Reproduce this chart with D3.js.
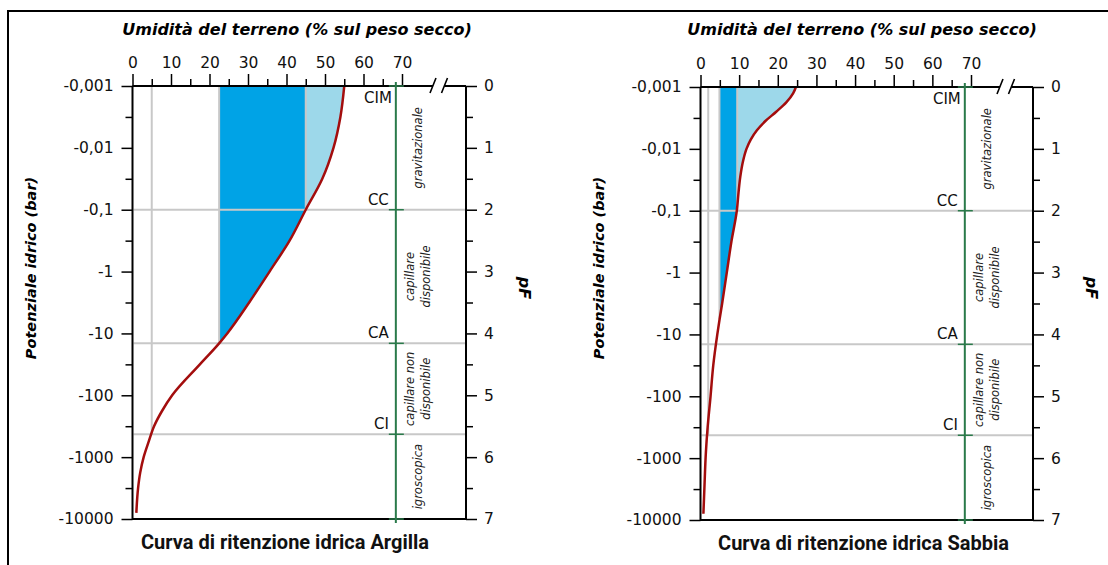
<!DOCTYPE html>
<html><head><meta charset="utf-8">
<script src="https://cdn.jsdelivr.net/npm/d3@7"></script>
<style>
body{margin:0;background:#fff;}
svg{display:block;font-family:"DejaVu Sans",sans-serif;}
</style></head><body>
<svg id="c" width="1108" height="565"></svg>
<script>
// ---------- data ----------
const pFTicks = [0,1,2,3,4,5,6,7];
const pFMinor = [0.5,1.5,2.5,3.5,4.5,5.5,6.5];
const barLabels = ["-0,001","-0,01","-0,1","-1","-10","-100","-1000","-10000"];
const moistTicks = [0,10,20,30,40,50,60,70];
const moistMinor = [5,15,25,35,45,55,65];
const levelNames = ["CIM","CC","CA","CI"];
const levelPF = [0,2,4.16,5.63];
const zoneNames = [["gravitazionale"],["capillare","disponibile"],["capillare non","disponibile"],["igroscopica"]];
const zoneBounds = [0,2,4.16,5.63,7];
const zoneAxisMoisture = 68.4;
const xTitle = "Umidità del terreno (% sul peso secco)";
const yTitle = "Potenziale idrico (bar)";
const y2Title = "pF";

// Argilla (clay)
const clayPF = [0,0.5,1,1.5,2,2.5,3,3.5,4,4.16,4.5,5,5.25,5.5,5.75,6,6.25,6.5,6.9];
const clayW  = [55,54,52.2,49.3,45,40.8,35.6,30.3,24.6,22.5,17.5,10.3,7.7,5.6,4.2,2.9,2.0,1.45,1.0];
const clayCC = 45, clayCA = 22.5, clayCI = 5.0;
const clayDropEnd = [2,4.16,5.63];
const clayTitle = "Curva di ritenzione idrica Argilla";

// Sabbia (sand)
const sandPF = [0,0.1,0.25,0.4,0.55,0.7,0.85,1.0,1.2,1.45,1.7,2,2.5,3,3.5,3.75,4,4.5,5,5.5,5.9,6.5,6.9];
const sandW  = [24.7,24.0,22.2,19.6,16.8,14.6,13.0,11.9,11.0,10.3,9.85,9.4,8.0,6.8,5.6,4.95,4.35,3.3,2.6,1.85,1.4,1.0,0.75];
const sandCC = 9.5, sandCA = 4.9, sandCI = 2.0;
const sandDropEnd = [2,3.75,5.63];
const sandTitle = "Curva di ritenzione idrica Sabbia";

// ---------- drawing ----------
const svg = d3.select("#c");
svg.append("path").attr("d","M8,565V11H1108").attr("fill","none").attr("stroke","#000").attr("stroke-width",2);

const C = {dark:"#00a3e6", light:"#9dd8ea", red:"#a30d0d", green:"#2a7a4a", grey:"#c8c8c8"};

function panel(id, L, pfs, ws, cc, ca, ci, dropEnd, title){
  const g = svg.append("g");
  const x = d3.scaleLinear().domain([0,70]).range([L.x0, L.x70]);
  const y = d3.scaleLinear().domain([0,7]).range([L.top, L.bottom]);
  const pts = pfs.map((p,i)=>({pF:p, w:ws[i]}));

  const area = d3.area().curve(d3.curveMonotoneY).y(d=>y(d.pF)).x0(x(0)-5).x1(d=>x(d.w));
  g.append("clipPath").attr("id","clip"+id).append("path").attr("d", area(pts));

  const fills = g.append("g").attr("clip-path","url(#clip"+id+")");
  fills.append("rect").attr("x",x(ca)).attr("y",y(0)).attr("width",x(cc)-x(ca)).attr("height",y(levelPF[2])-y(0)).attr("fill",C.dark);
  fills.append("rect").attr("x",x(cc)).attr("y",y(0)).attr("width",x(70)-x(cc)).attr("height",y(levelPF[1])-y(0)).attr("fill",C.light);

  const drops = [cc, ca, ci];
  drops.forEach((w,i)=>{
    g.append("line").attr("x1",x(w)).attr("x2",x(w)).attr("y1",y(0)).attr("y2",y(dropEnd[i]))
      .attr("stroke",C.grey).attr("stroke-width",2);
  });
  levelPF.slice(1).forEach(p=>{
    g.append("line").attr("x1",L.x0+1).attr("x2",L.right).attr("y1",y(p)).attr("y2",y(p))
      .attr("stroke",C.grey).attr("stroke-width",2);
  });

  g.append("path").attr("d", d3.line().curve(d3.curveMonotoneY).x(d=>x(d.w)).y(d=>y(d.pF))(pts))
    .attr("fill","none").attr("stroke",C.red).attr("stroke-width",2.5);

  const axStyle = s => { s.select(".domain").remove(); s.selectAll("line").attr("stroke","#000").attr("stroke-width",1.5);
    s.selectAll("text").attr("fill","#111").style("font-size","15.5px").style("font-family","DejaVu Sans"); };
  g.append("g").attr("transform",`translate(0,${L.top})`).call(d3.axisTop(x).tickValues(moistMinor).tickSize(7).tickFormat("")).call(axStyle);
  g.append("g").attr("transform",`translate(0,${L.top})`).call(d3.axisTop(x).tickValues(moistTicks).tickSize(12).tickPadding(6).tickFormat(d3.format("d"))).call(axStyle);
  g.append("g").attr("transform",`translate(${L.x0},0)`).call(d3.axisLeft(y).tickValues(pFMinor).tickSize(7).tickFormat("")).call(axStyle);
  g.append("g").attr("transform",`translate(${L.x0},0)`).call(d3.axisLeft(y).tickValues(pFTicks).tickSize(11).tickPadding(8).tickFormat((d,i)=>barLabels[i])).call(axStyle);
  g.append("g").attr("transform",`translate(${L.right},0)`).call(d3.axisRight(y).tickValues(pFMinor).tickSize(7).tickFormat("")).call(axStyle);
  g.append("g").attr("transform",`translate(${L.right},0)`).call(d3.axisRight(y).tickValues(pFTicks).tickSize(11).tickPadding(7).tickFormat(d3.format("d"))).call(axStyle);

  const b1 = L.right-33, b2 = L.right-21.5;
  const ax = g.append("g").attr("stroke","#000").attr("stroke-width",2).attr("fill","none");
  ax.append("path").attr("d",`M${L.x0},${L.top}H${b1}M${b2},${L.top}H${L.right}`);
  ax.append("path").attr("d",`M${b1-3},${L.top+7}L${b1+3},${L.top-8}M${b2-3},${L.top+7}L${b2+3},${L.top-8}`).attr("stroke-width",1.6);
  ax.append("path").attr("d",`M${L.x0},${L.top}V${L.bottom}H${L.right}V${L.top}`);

  const gx = x(zoneAxisMoisture);
  g.append("line").attr("x1",gx).attr("x2",gx).attr("y1",L.top-4).attr("y2",L.bottom+4).attr("stroke",C.green).attr("stroke-width",2);
  zoneBounds.forEach(p=>{
    g.append("line").attr("x1",gx-7).attr("x2",gx+8).attr("y1",y(p)).attr("y2",y(p)).attr("stroke",C.green).attr("stroke-width",1.5);
  });
  levelNames.forEach((n,i)=>{
    g.append("text").attr("x", i===0? gx-4 : gx-7).attr("y", i===0? y(0)+17 : y(levelPF[i])-5)
      .attr("text-anchor","end").style("font-size","15px").attr("fill","#111").text(n);
  });
  zoneNames.forEach((lines,i)=>{
    const cy = (y(zoneBounds[i])+y(zoneBounds[i+1]))/2;
    const t = g.append("text").attr("transform",`translate(${gx+22},${cy}) rotate(-90)`)
      .attr("text-anchor","middle").style("font-size","11.5px").style("font-style","italic").attr("fill","#222");
    lines.forEach((ln,j)=>{
      t.append("tspan").attr("x",0).attr("y", (j-(lines.length-1)/2)*16 + 4).text(ln);
    });
  });

  g.append("text").attr("x",L.titleX).attr("y",35).attr("text-anchor","middle")
    .style("font-size","16px").style("font-weight","bold").style("font-style","italic").text(xTitle);
  g.append("text").attr("transform",`translate(${L.yTitleX},268) rotate(-90)`).attr("text-anchor","middle")
    .style("font-size","14.5px").style("font-weight","bold").style("font-style","italic").text(yTitle);
  g.append("text").attr("transform",`translate(${L.right+59},288) rotate(90)`).attr("text-anchor","middle").attr("dy","0.35em")
    .style("font-size","16px").style("font-weight","bold").style("font-style","italic").text(y2Title);
  g.append("text").attr("x",L.bottomTitleX).attr("y",L.bottom+30).attr("text-anchor","middle")
    .style("font-family","'Liberation Sans Narrow','Roboto',sans-serif").style("font-size","20px").style("font-weight","bold")
    .attr("fill","#111").text(title);
}

panel("A", {x0:132.5, x70:402, right:466, top:86, bottom:519, titleX:297, yTitleX:36, bottomTitleX:285},
  clayPF, clayW, clayCC, clayCA, clayCI, clayDropEnd, clayTitle);
panel("B", {x0:700.5, x70:971, right:1033, top:87, bottom:520, titleX:862, yTitleX:604, bottomTitleX:863.5},
  sandPF, sandW, sandCC, sandCA, sandCI, sandDropEnd, sandTitle);
</script></body></html>
